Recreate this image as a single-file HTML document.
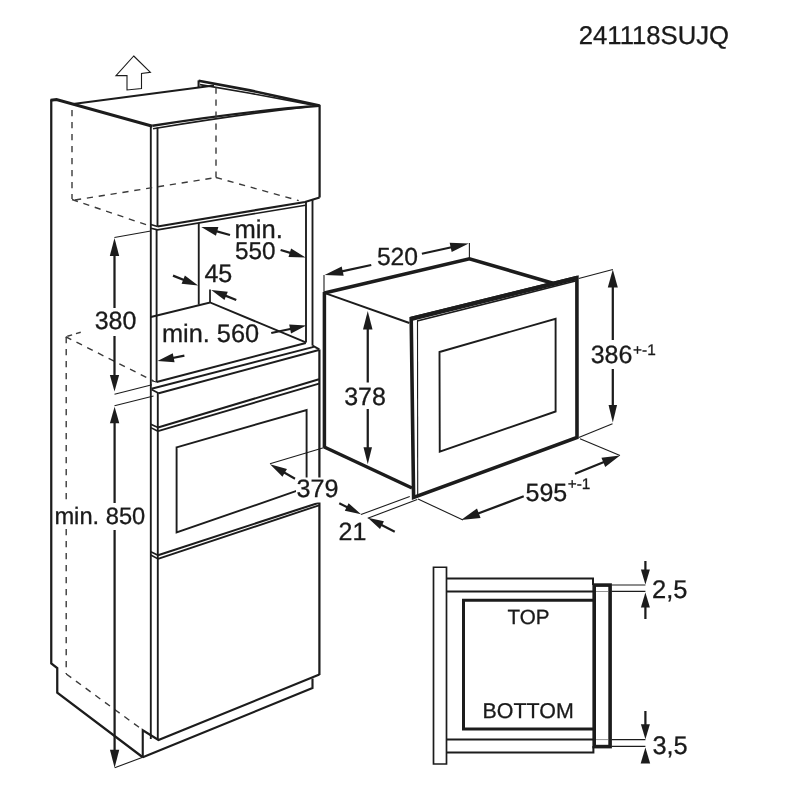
<!DOCTYPE html>
<html><head><meta charset="utf-8"><title>241118SUJQ</title>
<style>
html,body{margin:0;padding:0;background:#fff;}
svg{display:block;will-change:transform;}
text{font-family:"Liberation Sans",Arial,Helvetica,sans-serif;fill:#1a1a1a;stroke:#1a1a1a;stroke-width:0.3px;text-rendering:geometricPrecision;}
</style></head><body>
<svg width="800" height="800" viewBox="0 0 800 800">
<rect width="800" height="800" fill="#fff"/>
<path d="M51.25,99.50 L51.25,663.50 L57.25,668.00 L57.25,692.75 L142.75,757.25" fill="none" stroke="#1c1c1c" stroke-width="2.25" stroke-linecap="butt" stroke-linejoin="miter"/>
<path d="M142.75,757.60 L142.75,730.25 L158.50,740.00 L319.40,674.50" fill="none" stroke="#1c1c1c" stroke-width="2.12" stroke-linecap="butt" stroke-linejoin="miter"/>
<path d="M142.75,757.25 L312.50,688.00 L312.50,678.50" fill="none" stroke="#1c1c1c" stroke-width="2.12" stroke-linecap="butt" stroke-linejoin="miter"/>
<path d="M50.60,100.20 L56.50,99.60 L152.50,126.25" fill="none" stroke="#1c1c1c" stroke-width="3.0" stroke-linecap="butt" stroke-linejoin="miter"/>
<path d="M152.5,125.7 Q250,110.6 319.4,105.7" fill="none" stroke="#1c1c1c" stroke-width="2.4"/>
<path d="M153,128.7 Q245,113.6 307,106.9" fill="none" stroke="#1c1c1c" stroke-width="1.6"/>
<path d="M198.60,80.70 L250.00,90.40 L319.60,105.60" fill="none" stroke="#1c1c1c" stroke-width="2.62" stroke-linecap="butt" stroke-linejoin="miter"/>
<path d="M200.00,84.60 L250.00,93.30 L311.00,104.60" fill="none" stroke="#1c1c1c" stroke-width="1.62" stroke-linecap="butt" stroke-linejoin="miter"/>
<path d="M198.60,87.50 L198.60,80.40" fill="none" stroke="#1c1c1c" stroke-width="2.12" stroke-linecap="butt" stroke-linejoin="miter"/>
<path d="M73.00,104.00 L214.00,85.40" fill="none" stroke="#1c1c1c" stroke-width="2.0" stroke-linecap="butt" stroke-linejoin="miter"/>
<path d="M319.60,104.80 L319.60,197.50" fill="none" stroke="#1c1c1c" stroke-width="2.25" stroke-linecap="butt" stroke-linejoin="miter"/>
<path d="M150.80,126.00 L150.80,739.00" fill="none" stroke="#1c1c1c" stroke-width="1.88" stroke-linecap="butt" stroke-linejoin="miter"/>
<path d="M157.50,127.50 L157.50,226.50" fill="none" stroke="#1c1c1c" stroke-width="1.88" stroke-linecap="butt" stroke-linejoin="miter"/>
<path d="M156.60,230.00 L156.60,382.00" fill="none" stroke="#1c1c1c" stroke-width="1.88" stroke-linecap="butt" stroke-linejoin="miter"/>
<path d="M157.80,393.00 L157.80,740.00" fill="none" stroke="#1c1c1c" stroke-width="1.88" stroke-linecap="butt" stroke-linejoin="miter"/>
<path d="M157.50,226.50 L305.00,202.00 L319.60,197.50" fill="none" stroke="#1c1c1c" stroke-width="2.19" stroke-linecap="butt" stroke-linejoin="miter"/>
<path d="M151.00,228.30 L157.50,229.80 L305.50,205.20" fill="none" stroke="#1c1c1c" stroke-width="1.62" stroke-linecap="butt" stroke-linejoin="miter"/>
<path d="M150.80,224.50 L157.50,226.50" fill="none" stroke="#1c1c1c" stroke-width="1.5" stroke-linecap="butt" stroke-linejoin="miter"/>
<path d="M306.00,202.00 L306.00,342.50" fill="none" stroke="#1c1c1c" stroke-width="1.88" stroke-linecap="butt" stroke-linejoin="miter"/>
<path d="M312.50,200.00 L312.50,345.60" fill="none" stroke="#1c1c1c" stroke-width="1.88" stroke-linecap="butt" stroke-linejoin="miter"/>
<path d="M198.75,223.00 L198.75,304.60" fill="none" stroke="#1c1c1c" stroke-width="1.88" stroke-linecap="butt" stroke-linejoin="miter"/>
<path d="M150.80,317.00 L210.00,302.50 L305.80,342.30" fill="none" stroke="#1c1c1c" stroke-width="1.88" stroke-linecap="butt" stroke-linejoin="miter"/>
<path d="M210.00,289.40 L210.00,302.50" fill="none" stroke="#1c1c1c" stroke-width="1.75" stroke-linecap="butt" stroke-linejoin="miter"/>
<path d="M156.60,382.00 L305.80,343.00" fill="none" stroke="#1c1c1c" stroke-width="2.0" stroke-linecap="butt" stroke-linejoin="miter"/>
<path d="M151.50,388.75 L313.75,346.90" fill="none" stroke="#1c1c1c" stroke-width="2.0" stroke-linecap="butt" stroke-linejoin="miter"/>
<path d="M158.75,393.30 L318.90,350.00" fill="none" stroke="#1c1c1c" stroke-width="2.0" stroke-linecap="butt" stroke-linejoin="miter"/>
<path d="M151.50,389.50 L158.75,393.30" fill="none" stroke="#1c1c1c" stroke-width="1.75" stroke-linecap="butt" stroke-linejoin="miter"/>
<path d="M151.50,380.60 L156.60,382.20" fill="none" stroke="#1c1c1c" stroke-width="1.0" stroke-linecap="butt" stroke-linejoin="miter"/>
<path d="M312.50,345.60 L319.40,349.40" fill="none" stroke="#1c1c1c" stroke-width="1.88" stroke-linecap="butt" stroke-linejoin="miter"/>
<path d="M319.40,349.40 L319.40,675.00" fill="none" stroke="#1c1c1c" stroke-width="2.25" stroke-linecap="butt" stroke-linejoin="miter"/>
<path d="M158.00,427.50 L319.00,379.30" fill="none" stroke="#1c1c1c" stroke-width="2.12" stroke-linecap="butt" stroke-linejoin="miter"/>
<path d="M158.00,431.20 L319.00,383.60" fill="none" stroke="#1c1c1c" stroke-width="1.88" stroke-linecap="butt" stroke-linejoin="miter"/>
<path d="M150.80,424.20 L158.00,427.50" fill="none" stroke="#1c1c1c" stroke-width="1.62" stroke-linecap="butt" stroke-linejoin="miter"/>
<path d="M150.80,427.60 L158.00,431.20" fill="none" stroke="#1c1c1c" stroke-width="1.62" stroke-linecap="butt" stroke-linejoin="miter"/>
<polygon points="176.60,447.30 306.60,410.00 306.60,487.40 176.60,532.50" fill="none" stroke="#1c1c1c" stroke-width="1.9" stroke-linejoin="miter"/>
<path d="M158.00,555.20 L319.00,502.70" fill="none" stroke="#1c1c1c" stroke-width="2.12" stroke-linecap="butt" stroke-linejoin="miter"/>
<path d="M158.00,558.90 L319.00,505.30" fill="none" stroke="#1c1c1c" stroke-width="1.88" stroke-linecap="butt" stroke-linejoin="miter"/>
<path d="M150.80,551.80 L158.00,555.20" fill="none" stroke="#1c1c1c" stroke-width="1.62" stroke-linecap="butt" stroke-linejoin="miter"/>
<path d="M150.80,555.00 L158.00,558.90" fill="none" stroke="#1c1c1c" stroke-width="1.62" stroke-linecap="butt" stroke-linejoin="miter"/>
<path d="M72.00,110.00 L72.00,199.00" fill="none" stroke="#3a3a3a" stroke-width="1.4" stroke-linecap="butt" stroke-linejoin="miter" stroke-dasharray="6.2 5.8"/>
<path d="M72.00,199.50 L150.00,226.00" fill="none" stroke="#3a3a3a" stroke-width="1.4" stroke-linecap="butt" stroke-linejoin="miter" stroke-dasharray="6.2 5.8"/>
<path d="M75.00,200.00 L216.00,177.50" fill="none" stroke="#3a3a3a" stroke-width="1.4" stroke-linecap="butt" stroke-linejoin="miter" stroke-dasharray="6.2 5.8"/>
<path d="M216.00,87.50 L216.00,177.50" fill="none" stroke="#3a3a3a" stroke-width="1.4" stroke-linecap="butt" stroke-linejoin="miter" stroke-dasharray="6.2 5.8"/>
<path d="M216.00,177.50 L298.75,200.60" fill="none" stroke="#3a3a3a" stroke-width="1.4" stroke-linecap="butt" stroke-linejoin="miter" stroke-dasharray="6.2 5.8"/>
<path d="M80.75,332.25 L65.75,336.75" fill="none" stroke="#3a3a3a" stroke-width="1.4" stroke-linecap="butt" stroke-linejoin="miter" stroke-dasharray="5 4"/>
<path d="M66.20,337.00 L66.20,674.00" fill="none" stroke="#3a3a3a" stroke-width="1.4" stroke-linecap="butt" stroke-linejoin="miter" stroke-dasharray="6.2 5.8"/>
<path d="M65.75,336.75 L153.50,381.00" fill="none" stroke="#3a3a3a" stroke-width="1.4" stroke-linecap="butt" stroke-linejoin="miter" stroke-dasharray="6.2 5.8"/>
<path d="M66.25,674.00 L142.00,729.50" fill="none" stroke="#3a3a3a" stroke-width="1.4" stroke-linecap="butt" stroke-linejoin="miter" stroke-dasharray="6.2 5.8"/>
<polygon points="133.75,56.00 150.40,72.25 141.50,73.50 141.50,88.50 127.00,90.00 127.00,75.50 116.00,75.60" fill="none" stroke="#1c1c1c" stroke-width="1.1" stroke-linejoin="miter"/>
<path d="M114.40,237.50 L150.80,231.00" fill="none" stroke="#1c1c1c" stroke-width="1.1" stroke-linecap="butt" stroke-linejoin="miter"/>
<path d="M114.50,394.20 L152.00,384.75" fill="none" stroke="#1c1c1c" stroke-width="1.1" stroke-linecap="butt" stroke-linejoin="miter"/>
<path d="M114.50,405.75 L153.50,396.00" fill="none" stroke="#1c1c1c" stroke-width="1.1" stroke-linecap="butt" stroke-linejoin="miter"/>
<path d="M114.70,767.75 L142.75,757.25" fill="none" stroke="#1c1c1c" stroke-width="1.1" stroke-linecap="butt" stroke-linejoin="miter"/>
<path d="M114.50,308.00 L114.50,250.60" fill="none" stroke="#1c1c1c" stroke-width="2.25" stroke-linecap="butt" stroke-linejoin="miter"/>
<polygon points="114.50,238.00 119.20,256.00 114.50,256.00 109.80,256.00" fill="#1c1c1c" stroke="none"/>
<path d="M114.50,336.00 L114.50,379.95" fill="none" stroke="#1c1c1c" stroke-width="2.25" stroke-linecap="butt" stroke-linejoin="miter"/>
<polygon points="114.50,391.50 109.85,375.00 114.50,375.00 119.15,375.00" fill="#1c1c1c" stroke="none"/>
<path d="M114.60,505.00 L114.60,418.25" fill="none" stroke="#1c1c1c" stroke-width="2.25" stroke-linecap="butt" stroke-linejoin="miter"/>
<polygon points="114.60,406.70 119.30,423.20 114.60,423.20 109.90,423.20" fill="#1c1c1c" stroke="none"/>
<path d="M114.60,530.00 L114.60,755.15" fill="none" stroke="#1c1c1c" stroke-width="2.25" stroke-linecap="butt" stroke-linejoin="miter"/>
<polygon points="114.60,767.75 109.95,749.75 114.60,749.75 119.25,749.75" fill="#1c1c1c" stroke="none"/>
<path d="M230.00,235.00 L212.38,230.10" fill="none" stroke="#1c1c1c" stroke-width="2.25" stroke-linecap="butt" stroke-linejoin="miter"/>
<polygon points="201.25,227.00 218.35,227.09 217.15,231.42 215.94,235.76" fill="#1c1c1c" stroke="none"/>
<path d="M280.60,250.00 L294.54,254.18" fill="none" stroke="#1c1c1c" stroke-width="2.25" stroke-linecap="butt" stroke-linejoin="miter"/>
<polygon points="305.60,257.50 288.50,257.07 289.80,252.76 291.09,248.45" fill="#1c1c1c" stroke="none"/>
<path d="M173.00,275.60 L187.70,281.45" fill="none" stroke="#1c1c1c" stroke-width="2.25" stroke-linecap="butt" stroke-linejoin="miter"/>
<polygon points="198.10,285.60 181.57,283.86 183.24,279.68 184.90,275.50" fill="#1c1c1c" stroke="none"/>
<path d="M236.25,300.00 L221.65,294.16" fill="none" stroke="#1c1c1c" stroke-width="2.25" stroke-linecap="butt" stroke-linejoin="miter"/>
<polygon points="211.25,290.00 227.78,291.76 226.11,295.94 224.43,300.12" fill="#1c1c1c" stroke="none"/>
<path d="M184.40,355.60 L168.82,358.73" fill="none" stroke="#1c1c1c" stroke-width="2.25" stroke-linecap="butt" stroke-linejoin="miter"/>
<polygon points="157.50,361.00 172.79,353.34 173.68,357.75 174.56,362.16" fill="#1c1c1c" stroke="none"/>
<path d="M271.25,333.00 L294.95,327.99" fill="none" stroke="#1c1c1c" stroke-width="2.25" stroke-linecap="butt" stroke-linejoin="miter"/>
<polygon points="306.25,325.60 291.04,333.42 290.11,329.01 289.18,324.61" fill="#1c1c1c" stroke="none"/>
<path d="M324.40,292.00 L324.40,447.50" fill="none" stroke="#1c1c1c" stroke-width="3.5" stroke-linecap="butt" stroke-linejoin="miter"/>
<path d="M324.00,275.00 L324.00,293.00" fill="none" stroke="#1c1c1c" stroke-width="1.1" stroke-linecap="butt" stroke-linejoin="miter"/>
<path d="M324.40,293.00 L469.40,258.75 L553.00,283.30" fill="none" stroke="#1c1c1c" stroke-width="3.5" stroke-linecap="butt" stroke-linejoin="miter"/>
<path d="M325.00,293.20 L409.40,323.00" fill="none" stroke="#1c1c1c" stroke-width="1.88" stroke-linecap="butt" stroke-linejoin="miter"/>
<path d="M324.25,447.00 L412.00,488.00" fill="none" stroke="#1c1c1c" stroke-width="3.5" stroke-linecap="butt" stroke-linejoin="miter"/>
<polygon points="411.20,318.60 576.90,277.60 577.00,437.50 413.60,497.50" fill="none" stroke="#1c1c1c" stroke-width="3.6" stroke-linejoin="miter"/>
<path d="M410.20,319.20 L577.50,277.80" fill="none" stroke="#1c1c1c" stroke-width="4.3" stroke-linecap="butt" stroke-linejoin="miter"/>
<path d="M417.70,497.00 L417.50,320.60" fill="none" stroke="#1c1c1c" stroke-width="1.1" stroke-linecap="butt" stroke-linejoin="miter"/>
<path d="M417.10,321.00 L575.50,281.00" fill="none" stroke="#1c1c1c" stroke-width="1.62" stroke-linecap="butt" stroke-linejoin="miter"/>
<polygon points="439.50,352.00 555.60,318.75 555.60,411.50 439.75,451.75" fill="none" stroke="#1c1c1c" stroke-width="1.9" stroke-linejoin="miter"/>
<path d="M578.75,278.50 L612.80,269.50" fill="none" stroke="#1c1c1c" stroke-width="1.1" stroke-linecap="butt" stroke-linejoin="miter"/>
<path d="M578.75,437.50 L612.50,423.75" fill="none" stroke="#1c1c1c" stroke-width="1.1" stroke-linecap="butt" stroke-linejoin="miter"/>
<path d="M580.00,438.75 L620.00,455.50" fill="none" stroke="#1c1c1c" stroke-width="1.1" stroke-linecap="butt" stroke-linejoin="miter"/>
<path d="M418.00,499.00 L463.00,520.00" fill="none" stroke="#1c1c1c" stroke-width="1.1" stroke-linecap="butt" stroke-linejoin="miter"/>
<path d="M361.00,514.50 L409.75,496.50" fill="none" stroke="#1c1c1c" stroke-width="1.1" stroke-linecap="butt" stroke-linejoin="miter"/>
<path d="M367.75,518.25 L417.25,499.50" fill="none" stroke="#1c1c1c" stroke-width="1.1" stroke-linecap="butt" stroke-linejoin="miter"/>
<path d="M270.00,463.75 L326.00,447.00" fill="none" stroke="#1c1c1c" stroke-width="1.1" stroke-linecap="butt" stroke-linejoin="miter"/>
<path d="M469.40,243.00 L469.40,258.75" fill="none" stroke="#1c1c1c" stroke-width="1.1" stroke-linecap="butt" stroke-linejoin="miter"/>
<path d="M371.25,265.00 L337.26,272.29" fill="none" stroke="#1c1c1c" stroke-width="2.25" stroke-linecap="butt" stroke-linejoin="miter"/>
<polygon points="324.60,275.00 341.69,266.48 342.69,271.12 343.68,275.77" fill="#1c1c1c" stroke="none"/>
<path d="M421.90,253.75 L456.10,246.27" fill="none" stroke="#1c1c1c" stroke-width="2.25" stroke-linecap="butt" stroke-linejoin="miter"/>
<polygon points="468.75,243.50 451.69,252.09 450.68,247.45 449.66,242.81" fill="#1c1c1c" stroke="none"/>
<path d="M367.75,382.50 L367.75,323.95" fill="none" stroke="#1c1c1c" stroke-width="2.25" stroke-linecap="butt" stroke-linejoin="miter"/>
<polygon points="367.75,311.00 372.50,329.50 367.75,329.50 363.00,329.50" fill="#1c1c1c" stroke="none"/>
<path d="M367.75,409.00 L367.75,452.35" fill="none" stroke="#1c1c1c" stroke-width="2.25" stroke-linecap="butt" stroke-linejoin="miter"/>
<polygon points="367.75,464.25 363.50,447.25 367.75,447.25 372.00,447.25" fill="#1c1c1c" stroke="none"/>
<path d="M295.00,478.75 L280.30,470.26" fill="none" stroke="#1c1c1c" stroke-width="2.12" stroke-linecap="butt" stroke-linejoin="miter"/>
<polygon points="270.00,464.30 286.97,468.91 284.72,472.81 282.47,476.70" fill="#1c1c1c" stroke="none"/>
<path d="M339.25,503.25 L351.00,509.16" fill="none" stroke="#1c1c1c" stroke-width="2.12" stroke-linecap="butt" stroke-linejoin="miter"/>
<polygon points="361.00,514.20 344.80,510.80 346.71,507.01 348.62,503.21" fill="#1c1c1c" stroke="none"/>
<path d="M394.75,531.75 L377.70,522.94" fill="none" stroke="#1c1c1c" stroke-width="2.12" stroke-linecap="butt" stroke-linejoin="miter"/>
<polygon points="367.75,517.80 383.92,521.37 381.96,525.14 380.01,528.92" fill="#1c1c1c" stroke="none"/>
<path d="M523.75,496.25 L473.44,515.29" fill="none" stroke="#1c1c1c" stroke-width="2.25" stroke-linecap="butt" stroke-linejoin="miter"/>
<polygon points="461.00,520.00 477.00,508.60 478.77,513.27 480.54,517.95" fill="#1c1c1c" stroke="none"/>
<path d="M575.00,473.75 L608.32,460.24" fill="none" stroke="#1c1c1c" stroke-width="2.25" stroke-linecap="butt" stroke-linejoin="miter"/>
<polygon points="620.00,455.50 605.20,466.90 603.32,462.26 601.44,457.63" fill="#1c1c1c" stroke="none"/>
<path d="M612.80,340.00 L612.80,282.10" fill="none" stroke="#1c1c1c" stroke-width="2.25" stroke-linecap="butt" stroke-linejoin="miter"/>
<polygon points="612.80,269.50 617.80,287.50 612.80,287.50 607.80,287.50" fill="#1c1c1c" stroke="none"/>
<path d="M612.80,369.00 L612.80,410.25" fill="none" stroke="#1c1c1c" stroke-width="2.25" stroke-linecap="butt" stroke-linejoin="miter"/>
<polygon points="612.80,422.50 608.55,405.00 612.80,405.00 617.05,405.00" fill="#1c1c1c" stroke="none"/>
<polygon points="433.50,567.25 446.50,567.25 446.50,764.00 433.50,764.00" fill="none" stroke="#1c1c1c" stroke-width="1.7" stroke-linejoin="miter"/>
<path d="M446.50,578.60 L593.00,578.60 L593.00,585.00" fill="none" stroke="#1c1c1c" stroke-width="2.0" stroke-linecap="butt" stroke-linejoin="miter"/>
<path d="M446.50,591.40 L594.00,591.40" fill="none" stroke="#1c1c1c" stroke-width="2.0" stroke-linecap="butt" stroke-linejoin="miter"/>
<path d="M446.50,739.60 L594.00,739.60" fill="none" stroke="#1c1c1c" stroke-width="2.0" stroke-linecap="butt" stroke-linejoin="miter"/>
<path d="M446.50,752.40 L593.40,752.40 L593.40,746.00" fill="none" stroke="#1c1c1c" stroke-width="2.0" stroke-linecap="butt" stroke-linejoin="miter"/>
<rect x="463.5" y="600.25" width="131" height="128.75" fill="none" stroke="#1c1c1c" stroke-width="3"/>
<rect x="594.2" y="585.1" width="15.9" height="161.5" fill="none" stroke="#1c1c1c" stroke-width="3.6"/>
<path d="M596.00,591.50 L608.00,591.50" fill="none" stroke="#777" stroke-width="0.8" stroke-linecap="butt" stroke-linejoin="miter"/>
<path d="M596.00,739.60 L608.00,739.60" fill="none" stroke="#777" stroke-width="0.8" stroke-linecap="butt" stroke-linejoin="miter"/>
<path d="M611.50,585.00 L645.40,585.00" fill="none" stroke="#1c1c1c" stroke-width="1.1" stroke-linecap="butt" stroke-linejoin="miter"/>
<path d="M611.50,591.40 L645.40,591.40" fill="none" stroke="#1c1c1c" stroke-width="1.1" stroke-linecap="butt" stroke-linejoin="miter"/>
<path d="M611.50,739.60 L645.40,739.60" fill="none" stroke="#1c1c1c" stroke-width="1.1" stroke-linecap="butt" stroke-linejoin="miter"/>
<path d="M611.50,746.40 L645.40,746.40" fill="none" stroke="#1c1c1c" stroke-width="1.1" stroke-linecap="butt" stroke-linejoin="miter"/>
<path d="M645.40,561.00 L645.40,574.00" fill="none" stroke="#1c1c1c" stroke-width="2.25" stroke-linecap="butt" stroke-linejoin="miter"/>
<polygon points="645.40,584.50 640.90,569.50 645.40,569.50 649.90,569.50" fill="#1c1c1c" stroke="none"/>
<path d="M645.40,619.00 L645.40,603.00" fill="none" stroke="#1c1c1c" stroke-width="2.25" stroke-linecap="butt" stroke-linejoin="miter"/>
<polygon points="645.40,592.50 649.90,607.50 645.40,607.50 640.90,607.50" fill="#1c1c1c" stroke="none"/>
<path d="M645.40,711.00 L645.40,728.80" fill="none" stroke="#1c1c1c" stroke-width="2.25" stroke-linecap="butt" stroke-linejoin="miter"/>
<polygon points="645.40,739.30 640.90,724.30 645.40,724.30 649.90,724.30" fill="#1c1c1c" stroke="none"/>
<polygon points="645.40,747.50 650.15,763.50 645.40,763.50 640.65,763.50" fill="#1c1c1c" stroke="none"/>
<text x="578.7" y="44" font-size="25.7" text-anchor="start">241118SUJQ</text>
<text x="234.4" y="238" font-size="25.6" text-anchor="start">min.</text>
<text x="235.0" y="259.3" font-size="24.3" text-anchor="start">550</text>
<text x="204.4" y="282.3" font-size="25.1" text-anchor="start">45</text>
<text x="161.9" y="342" font-size="25.35" text-anchor="start">min. 560</text>
<text x="94.7" y="329.2" font-size="25.0" text-anchor="start">380</text>
<rect x="54" y="503" width="92" height="25" fill="#fff"/>
<text x="54.4" y="523.6" font-size="23.7" text-anchor="start">min. 850</text>
<rect x="296" y="477.5" width="43" height="25" fill="#fff"/>
<text x="296.4" y="497.4" font-size="25.2" text-anchor="start">379</text>
<text x="338.6" y="539.5" font-size="25" text-anchor="start">21</text>
<text x="344.2" y="404.7" font-size="25.0" text-anchor="start">378</text>
<text x="376.9" y="265" font-size="24.7" text-anchor="start">520</text>
<text x="590.7" y="363.25" font-size="25" text-anchor="start">386<tspan font-size="15.4" dy="-8.3" dx="0.7">+-1</tspan></text>
<text x="525.5" y="501.3" font-size="25" text-anchor="start">595<tspan font-size="15.4" dy="-12.8" dx="0.5">+-1</tspan></text>
<text x="507.6" y="624.25" font-size="20.6" text-anchor="start">TOP</text>
<text x="482.6" y="718" font-size="21.4" text-anchor="start">BOTTOM</text>
<text x="652.1" y="598" font-size="25.5" text-anchor="start">2,5</text>
<text x="652.4" y="753.5" font-size="25.4" text-anchor="start">3,5</text>
</svg>
</body></html>
